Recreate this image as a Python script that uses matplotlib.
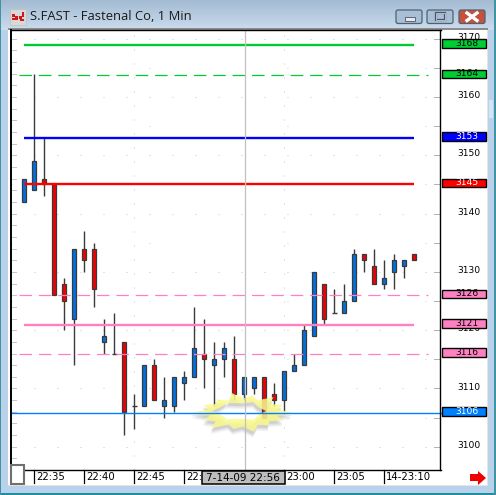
import numpy as np
import matplotlib
matplotlib.use("Agg")
import matplotlib.pyplot as plt
from matplotlib.patches import Rectangle, Polygon, PathPatch, FancyBboxPatch
from matplotlib.path import Path

# candles, one a minute starting 22:34
opens = [3142, 3144, 3146, 3145, 3128, 3122, 3134, 3134, 3118, 3116,
         3118, 3107, 3107, 3114, 3107, 3107, 3111, 3112, 3116, 3114,
         3115, 3115, 3109, 3110, 3112, 3109, 3108, 3113, 3114, 3119,
         3128, 3123, 3123, 3125, 3133, 3131, 3128, 3130, 3131, 3133]
closes = [3146, 3149, 3145, 3126, 3125, 3134, 3132, 3127, 3119, 3116,
          3106, 3107, 3114, 3108, 3108, 3112, 3112, 3117, 3115, 3115,
          3117, 3109, 3112, 3112, 3105, 3108, 3113, 3114, 3120, 3130,
          3122, 3123, 3125, 3133, 3132, 3128, 3129, 3132, 3132, 3132]
highs = [3146, 3164, 3153, 3145, 3129, 3134, 3137, 3135, 3122, 3123,
         3118, 3109, 3114, 3115, 3112, 3112, 3113, 3124, 3122, 3118,
         3118, 3119, 3112, 3112, 3112, 3111, 3113, 3116, 3121, 3130,
         3128, 3127, 3128, 3134, 3133, 3134, 3132, 3133, 3132, 3133]
lows = [3142, 3144, 3143, 3126, 3120, 3114, 3130, 3124, 3116, 3116,
        3102, 3103, 3107, 3108, 3105, 3106, 3108, 3112, 3110, 3107,
        3112, 3108, 3108, 3109, 3105, 3107, 3106, 3113, 3114, 3119,
        3121, 3123, 3123, 3125, 3130, 3128, 3127, 3127, 3129, 3132]

price_ticks = [3100, 3110, 3120, 3130, 3140, 3150, 3160, 3170]
level_values = [3168.9, 3163.7, 3153, 3145, 3126, 3120.9, 3115.9, 3105.8]
level_labels = ["3168", "3164", "3153", "3145", "3126", "3121", "3116", "3106"]
level_colors = ["#00cc33", "#00cc33", "#0000ff", "#ff0000", "#ff80c0", "#ff80c0", "#ff80c0", "#0080ff"]
level_text = ["black", "black", "white", "white", "black", "black", "black", "white"]
level_style = ["solid", "dash", "solid", "solid", "dash", "solid", "dash", "thin"]

time_pos = [1, 6, 11, 16, 26, 31, 36]
time_labels = ["22:35", "22:40", "22:45", "22:", "23:00", "23:05", "14-23:10"]
cursor_pos = 22.05
cursor_label = "7-14-09 22:56"
title = "S.FAST - Fastenal Co, 1 Min"

W, H = 496, 495
fig = plt.figure(figsize=(W / 100, H / 100), dpi=100)

# window chrome, drawn in pixels
bg = fig.add_axes([0, 0, 1, 1], zorder=0)
bg.set_xlim(0, W)
bg.set_ylim(H, 0)
bg.axis("off")
grad = np.linspace(0, 1, 30)[:, None, None]
top_c = np.array([163, 187, 211])[None, None, :] / 255
bot_c = np.array([203, 220, 236])[None, None, :] / 255
bg.add_patch(Rectangle((0, 0), W, H, fc="#b9d1ea", ec="none"))
bg.imshow(top_c + (bot_c - top_c) * grad, extent=(0, W, 30, 0), aspect="auto", zorder=1)
bg.set_xlim(0, W)
bg.set_ylim(H, 0)
bg.add_patch(Rectangle((8, 28), 480, 457, fc="white", ec="none", zorder=2))
bg.add_patch(Rectangle((8, 28), 480, 2, fc="#8c8c8c", ec="none", zorder=2))
bg.add_patch(Rectangle((8, 484.5), 480, 1.5, fc="#e4e4e4", ec="none", zorder=2))
bg.add_patch(Rectangle((486.5, 30), 1.5, 455, fc="#e4e4e4", ec="none", zorder=2))
bg.add_patch(Rectangle((489, 100), 4, 18, fc="#d5e4f3", ec="none", zorder=2))
bg.add_patch(Rectangle((0, 492.5), W, 2.5, fc="#1f8f9f", ec="none", zorder=3))
bg.add_patch(Rectangle((493.5, 0), 2.5, H, fc="#3f93a3", ec="none", zorder=3))
bg.add_patch(Rectangle((0, 0), 0.8, H, fc="#3f93a3", ec="none", zorder=3))

# icon
bg.add_patch(Rectangle((10, 9), 16, 16, fc="#d8d8d8", ec="#c0c0c0", lw=0.5, zorder=3))
for x0, y0, w0, h0 in [(12, 14, 3, 3), (15, 16, 3, 4), (19, 16, 3, 3), (22, 12, 2, 5), (12, 18, 4, 2), (20, 19, 4, 2)]:
    bg.add_patch(Rectangle((x0, y0), w0, h0, fc="#d01818", ec="none", zorder=4))

# window buttons
for x0, w0, fc in [(395, 28, "#a9bfd6"), (426, 28, "#a9bfd6"), (458, 28, "#c4523c")]:
    bg.add_patch(FancyBboxPatch((x0 + 1, 10), w0 - 2, 13.5, boxstyle="round,pad=0,rounding_size=2",
                                fc=fc, ec="#4f6275", lw=0.9, zorder=4))
bg.add_patch(Rectangle((405, 17), 10, 3.5, fc="#e8e8e8", ec="#44566a", lw=0.6, zorder=5))
bg.add_patch(Rectangle((436, 13), 9, 7, fc="none", ec="#44566a", lw=1.6, zorder=5))
bg.add_patch(Rectangle((436, 13), 9, 7, fc="none", ec="#e8e8e8", lw=0.5, zorder=5))
bg.plot([467, 477], [13, 20.5], color="white", lw=2.4, zorder=5)
bg.plot([467, 477], [20.5, 13], color="white", lw=2.4, zorder=5)

bg.text(30, 16.5, title, fontsize=9.4, family="Open Sans", color="#1a1a1a", va="center", ha="left", zorder=5)

# chart area
L, R, T, B = 10.5, 440.5, 30.0, 470.0
ax = fig.add_axes([L / W, 1 - B / H, (R - L) / W, (B - T) / H], zorder=1)
ax.patch.set_alpha(0)
ax.set_xlim((L - 24.3) / 10, (R - 24.3) / 10)
ax.set_ylim(3160 - (B - 97) / 5.83, 3160 - (T - 97) / 5.83)
for s in ax.spines.values():
    s.set_visible(False)
ax.set_xticks([])
ax.set_yticks([])

# dotted grid
for v in price_ticks:
    ax.axhline(v, color="#c8c8c8", lw=0.72, linestyle=(0, (1, 22)), zorder=1)
for v in price_ticks[:-1]:
    ax.axhline(v + 5, color="#d0d0d0", lw=0.72, linestyle=(0, (1, 137)), zorder=1)
for p in [11, 26]:
    ax.axvline(p, color="#c8c8c8", lw=0.72, linestyle=(0, (1, 13)), zorder=1)

# left and right tick marks
ytr = ax.get_yaxis_transform()
for v in np.arange(3098, 3172, 2):
    ax.plot([0.002, 0.012], [v, v], transform=ytr, color="#c4c4c4", lw=0.7, zorder=1)
for v in np.arange(3100, 3175, 5):
    ax.plot([0.985, 1.0], [v, v], transform=ytr, color="#b0b0b0", lw=0.7, zorder=1)

# candles
x = np.arange(len(opens))
opens_a = np.array(opens)
closes_a = np.array(closes)
colors = ["#0070e0" if c > o else "#f00000" for o, c in zip(opens_a, closes_a)]
ax.vlines(x, lows, highs, color="#3a3a3a", lw=1.0, zorder=3)
solid = opens_a != closes_a
ax.bar(x[solid], np.abs(closes_a - opens_a)[solid], bottom=np.minimum(opens_a, closes_a)[solid], width=0.42,
       color=np.array(colors)[solid], edgecolor="#3a3a3a", linewidth=0.9, zorder=4)
ax.hlines(opens_a[~solid], x[~solid] - 0.25, x[~solid] + 0.25, color="#3a3a3a", lw=1.0, zorder=4)

# star burst around the cursor candle
outer_r = [1.0, .70, .90, .68, .82, .68, .98, .70, .84, .66, 1.0, .70, .86, .68,
           1.02, .70, .88, .68, .84, .66, 1.0, .70, .86, .68, .98, .68, .88, .70]
inner_r = [1.0, .82, 1.06, .82, 1.0, .84, 1.08, .84, 1.0, .82, 1.06, .82]
ang_o = np.linspace(0, 2 * np.pi, len(outer_r), endpoint=False)
ang_i = np.linspace(0, 2 * np.pi, len(inner_r), endpoint=False)
ox = 243 + 50 * np.array(outer_r) * np.cos(ang_o)
oy = 412.5 + 20 * np.array(outer_r) * np.sin(ang_o)
ix = 240 + 26 * np.array(inner_r) * np.cos(ang_i)
iy = 411 + 9.5 * np.array(inner_r) * np.sin(ang_i)
verts = np.vstack([np.c_[ox, oy], [[ox[0], oy[0]]], np.c_[ix, iy][::-1], [[ix[-1], iy[-1]]]])
codes = [Path.MOVETO] + [Path.LINETO] * (len(ox) - 1) + [Path.CLOSEPOLY]
codes += [Path.MOVETO] + [Path.LINETO] * (len(ix) - 1) + [Path.CLOSEPOLY]
over = fig.add_axes([0, 0, 1, 1], zorder=2)
over.patch.set_alpha(0)
over.set_xlim(0, W)
over.set_ylim(H, 0)
over.axis("off")
for off, a in [(6, .08), (4.5, .12), (3, .15)]:
    over.add_patch(PathPatch(Path(verts + [-1, off], codes), fc="#6e6e6e", ec="none", alpha=a, zorder=1))
over.add_patch(PathPatch(Path(verts, codes), fc="#fafa8c", ec="none", alpha=.85, zorder=2))

# price levels
for v, c, st in zip(level_values, level_colors, level_style):
    if st == "solid":
        ax.hlines(v, 0, 39, color=c, lw=1.7, zorder=5)
    elif st == "dash":
        ax.hlines(v, -0.5, 40.4, color=c, lw=0.9, linestyle=(0, (10, 5.5)), zorder=5)
over.plot([L, R], [97 + (3160 - level_values[-1]) * 5.83] * 2, color=level_colors[-1], lw=1.0, zorder=3)

# cursor line
over.plot([244.5, 244.5], [T, B], color="#c0c0c0", lw=0.9, zorder=3)


def y_px(v):
    return 97 + (3160 - v) * 5.83


# right scale labels
for v in price_ticks:
    over.text(469, y_px(v) - 1.3, str(v), fontsize=6.6, color="black", ha="center", va="center", zorder=5)
for v, lab, c, tc in zip(level_values, level_labels, level_colors, level_text):
    yc = y_px(v) - 1.5
    over.add_patch(Rectangle((441.5, yc - 4.2), 44, 8.4, fc=c, ec="black", lw=1.0, zorder=6))
    over.text(467, yc - 0.3, lab, fontsize=6.6, color=tc, ha="center", va="center", zorder=7)

# frame and time strip
over.plot([10.5, 10.5], [T, 465], color="black", lw=1.4, zorder=8)
over.plot([10.5, R], [T, T], color="black", lw=1.0, zorder=8)
over.plot([R - 0.5, R - 0.5], [T, B], color="black", lw=1.0, zorder=8)
over.plot([24, R], [B, B], color="black", lw=1.0, zorder=8)
for p, lab in zip(time_pos, time_labels):
    px = 24.3 + p * 10
    over.plot([px, px], [B, 483], color="black", lw=0.9, zorder=8)
    over.text(px + 2, 477.5, lab, fontsize=7.3, color="black", ha="left", va="center", zorder=8)
over.add_patch(Rectangle((10.5, 464.5), 13, 19, fc="white", ec="#707070", lw=1.5, zorder=8))
over.add_patch(Rectangle((201.5, 471), 83, 13, fc="#bebebe", ec="black", lw=1.1, zorder=9))
over.text(243, 477.7, cursor_label, fontsize=7.5, color="black", ha="center", va="center", zorder=10)
over.add_patch(Polygon([(470, 474), (478, 474), (478, 471), (486, 478), (478, 485), (478, 481), (470, 481)],
                       closed=True, fc="#f00000", ec="none", zorder=8))

fig.savefig("out.png", dpi=100)
